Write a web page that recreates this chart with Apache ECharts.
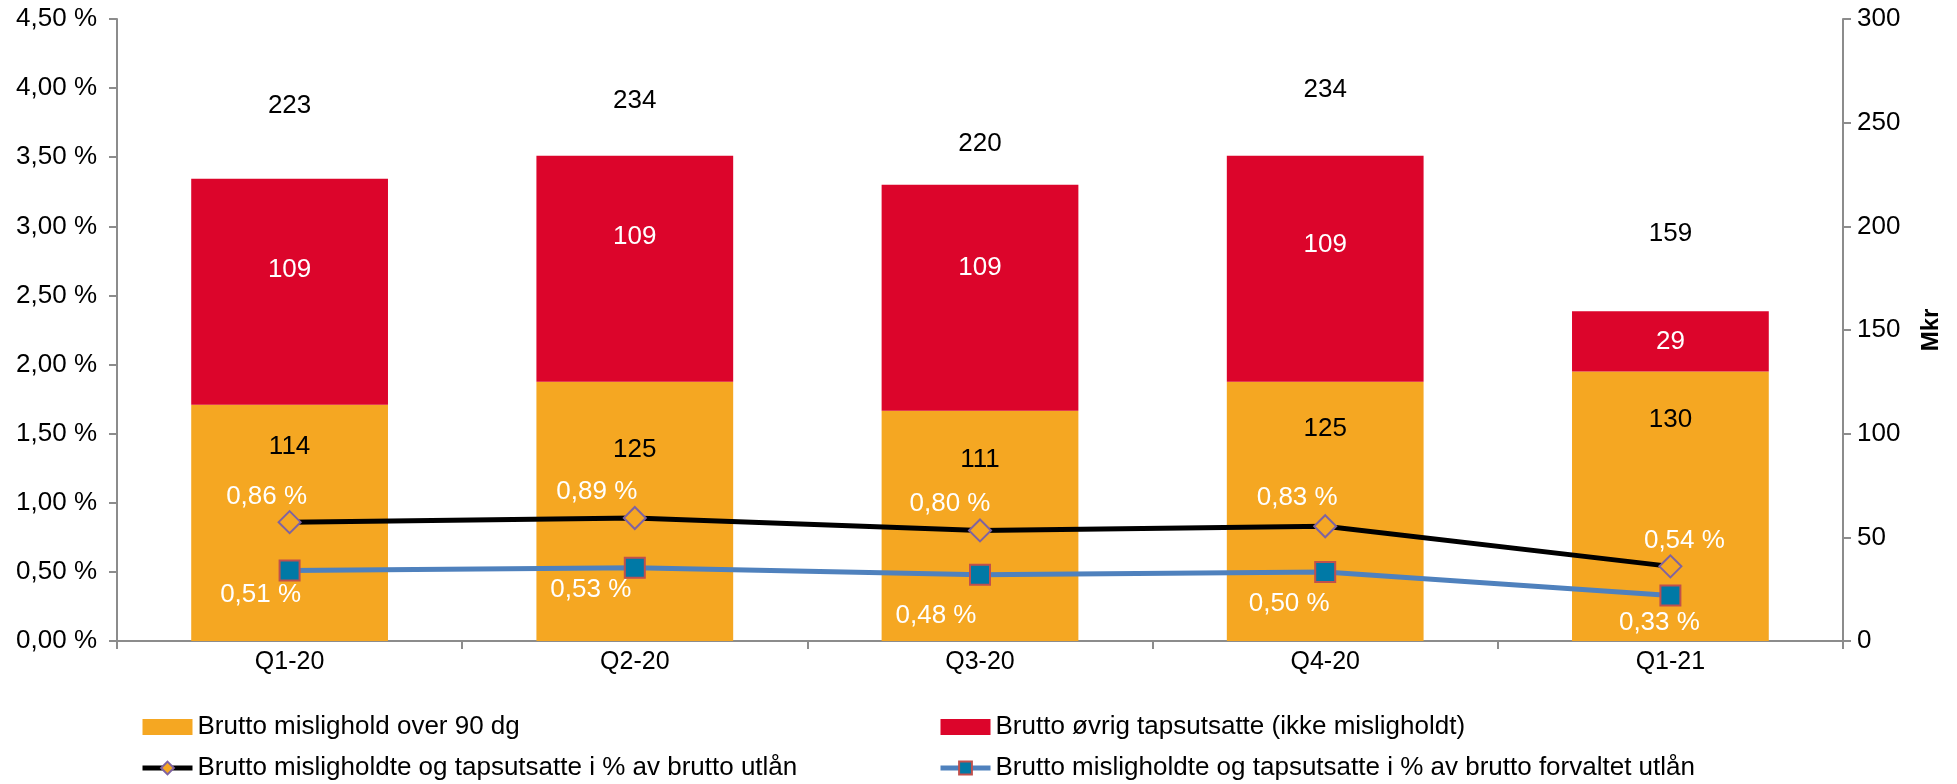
<!DOCTYPE html>
<html>
<head>
<meta charset="utf-8">
<script src="https://cdn.jsdelivr.net/npm/echarts@6/dist/echarts.min.js"></script>
<style>
html,body{margin:0;padding:0;background:#fff;}
#chart{width:1957px;height:784px;}
</style>
</head>
<body>
<div id="chart"></div>
<script>
const categories = ['Q1-20', 'Q2-20', 'Q3-20', 'Q4-20', 'Q1-21'];
const over90 = [114, 125, 111, 125, 130];
const ovrig = [109, 109, 109, 109, 29];
const totals = [223, 234, 220, 234, 159];
const pctBrutto = [0.86, 0.89, 0.80, 0.83, 0.54];
const pctForvaltet = [0.51, 0.53, 0.48, 0.50, 0.33];
const leftTicks = [0, 0.5, 1, 1.5, 2, 2.5, 3, 3.5, 4, 4.5];
const rightTicks = [0, 50, 100, 150, 200, 250, 300];

const names = {
  over90: 'Brutto mislighold over 90 dg',
  ovrig: 'Brutto øvrig tapsutsatte (ikke misligholdt)',
  brutto: 'Brutto misligholdte og tapsutsatte i % av brutto utlån',
  forvaltet: 'Brutto misligholdte og tapsutsatte i % av brutto forvaltet utlån'
};

const FONT = '"Liberation Sans", Arial, sans-serif';
const FS = 26;
const pctFmt = v => v.toFixed(2).replace('.', ',') + ' %';

function buildOption() {
  // label placements (style only)
  const totalGap = [73, 55, 41, 66, 78];
  const redShift = [22, 32, 30, 24, 0];
  const orangeGap = [42, 68, 49, 47, 48];
  const bruttoOff = [[-23, -25], [-38, -26], [-30, -27], [-28, -28], [14, -26]];
  const forvOff = [[-29, 24], [-44, 22], [-44, 41], [-36, 32], [-11, 27]];
  const axisColor = '#8c8c8c';
  const legendText = { fontFamily: FONT, fontSize: 26, color: '#000', lineHeight: 26 };

  return {
    animation: false,
    textStyle: { fontFamily: FONT },
    grid: { left: 117, right: 114, top: 19, bottom: 143, containLabel: false },
    legend: [
      {
        orient: 'vertical', left: 140, top: 714, itemGap: 15, padding: 0,
        itemWidth: 50, itemHeight: 16,
        textStyle: legendText,
        data: [
          { name: names.over90, icon: 'rect', itemStyle: { color: '#F5A722' } },
          { name: names.brutto, lineStyle: { width: 5, color: '#000' } }
        ]
      },
      {
        orient: 'vertical', left: 938, top: 714, itemGap: 15, padding: 0,
        itemWidth: 50, itemHeight: 16,
        textStyle: legendText,
        data: [
          { name: names.ovrig, icon: 'rect', itemStyle: { color: '#DC052B' } },
          { name: names.forvaltet, lineStyle: { width: 5, color: '#4F81BD' } }
        ]
      }
    ],
    xAxis: {
      type: 'category', data: categories, boundaryGap: true,
      axisLine: { lineStyle: { color: axisColor, width: 2 } },
      axisTick: { show: true, alignWithLabel: false, length: 8, lineStyle: { color: axisColor, width: 2 } },
      axisLabel: { color: '#000', fontSize: 25, fontFamily: FONT, margin: 9 }
    },
    yAxis: [
      {
        type: 'value', min: 0, max: 4.5, interval: 0.5, position: 'left',
        splitLine: { show: false },
        axisLine: { show: true, lineStyle: { color: axisColor, width: 2 } },
        axisTick: { show: true, length: 8, lineStyle: { color: axisColor, width: 2 } },
        axisLabel: { color: '#000', fontSize: FS, fontFamily: FONT, margin: 20,
          formatter: v => leftTicks.includes(+v.toFixed(2)) ? pctFmt(v) : '' }
      },
      {
        type: 'value', min: 0, max: 300, interval: 50, position: 'right',
        name: 'Mkr', nameLocation: 'middle', nameRotate: 90, nameGap: 76,
        nameTextStyle: { color: '#000', fontSize: 24, fontWeight: 'bold', fontFamily: FONT },
        splitLine: { show: false },
        axisLine: { show: true, lineStyle: { color: axisColor, width: 2 } },
        axisTick: { show: true, length: 8, lineStyle: { color: axisColor, width: 2 } },
        axisLabel: { color: '#000', fontSize: FS, fontFamily: FONT, margin: 14,
          formatter: v => rightTicks.includes(v) ? String(v) : '' }
      }
    ],
    series: [
      {
        name: names.over90, type: 'bar', stack: 'tot', yAxisIndex: 1,
        barWidth: '57%',
        itemStyle: { color: '#F5A722' },
        data: over90.map((v, i) => ({
          value: v,
          label: {
            show: true, position: 'insideTop', distance: 0,
            offset: [0, orangeGap[i] - FS / 2],
            color: '#000', fontSize: FS, lineHeight: FS, fontFamily: FONT
          }
        }))
      },
      {
        name: names.ovrig, type: 'bar', stack: 'tot', yAxisIndex: 1,
        barWidth: '57%',
        itemStyle: { color: '#DC052B' },
        data: ovrig.map((v, i) => ({
          value: v,
          label: {
            show: true, position: 'inside', offset: [0, -redShift[i]],
            color: '#fff', fontSize: FS, lineHeight: FS, fontFamily: FONT
          }
        }))
      },
      {
        name: 'totals', type: 'scatter', yAxisIndex: 1, symbolSize: 0, silent: true,
        itemStyle: { opacity: 1 },
        data: totals.map((v, i) => ({
          value: [categories[i], v],
          label: {
            show: true, position: 'inside', offset: [0, -totalGap[i]],
            formatter: String(v),
            color: '#000', fontSize: FS, lineHeight: FS, fontFamily: FONT
          }
        }))
      },
      {
        name: names.brutto, type: 'line', yAxisIndex: 0,
        symbol: 'diamond', symbolSize: 22,
        lineStyle: { color: '#000', width: 5 },
        itemStyle: { color: '#F5A722', borderColor: '#7F63A1', borderWidth: 2 },
        z: 5,
        data: pctBrutto.map((v, i) => ({
          value: v,
          label: {
            show: true, position: 'inside', offset: bruttoOff[i],
            formatter: p => pctFmt(p.value),
            color: '#fff', fontSize: FS, fontFamily: FONT
          }
        }))
      },
      {
        name: names.forvaltet, type: 'line', yAxisIndex: 0,
        symbol: 'rect', symbolSize: 20,
        lineStyle: { color: '#4F81BD', width: 5 },
        itemStyle: { color: '#0079A6', borderColor: '#C0504D', borderWidth: 2 },
        z: 5,
        data: pctForvaltet.map((v, i) => ({
          value: v,
          label: {
            show: true, position: 'inside', offset: forvOff[i],
            formatter: p => pctFmt(p.value),
            color: '#fff', fontSize: FS, fontFamily: FONT
          }
        }))
      }
    ]
  };
}

const chart = echarts.init(document.getElementById('chart'), null, { renderer: 'canvas' });
chart.setOption(buildOption());
</script>
</body>
</html>
